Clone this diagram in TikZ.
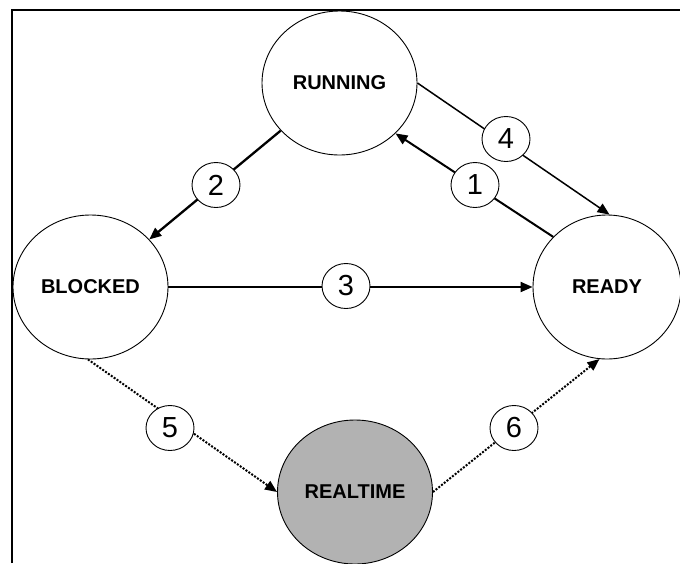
\documentclass[tikz,border=0pt]{standalone}
\usepackage{fontspec}
\setmainfont{Liberation Sans}
\usetikzlibrary{shapes.geometric,arrows.meta}

\begin{document}
\begin{tikzpicture}[x=1pt, y=-1pt,
		state/.style={ellipse, draw, line width=0.9pt, minimum width=155pt, minimum height=144pt, inner sep=0pt, font=\fontsize{20}{20}\selectfont\bfseries},
		num/.style={ellipse, draw, fill=white, line width=0.9pt, minimum width=48pt, minimum height=45pt, inner sep=0pt, font=\fontsize{29}{29}\selectfont},
		trans/.style={line width=2pt, -{Triangle[length=12pt, width=10pt]}},
		dottrans/.style={trans, dash pattern=on 2pt off 1.5pt}]
		\useasboundingbox (0, 0) rectangle (680, 563);
		\draw[line width=2pt] (12, 563) -- (12, 10) -- (680, 10);
		
		\node[state] (run) at (339.5, 83) {RUNNING};
		\node[state] (blk) at (90.5, 287) {BLOCKED};
		\node[state, minimum width=148pt] (rdy) at (607, 287) {READY};
		\node[state, fill=gray!60] (rt) at (355, 492) {REALTIME};
		
		\draw[trans] (rdy.137) -- (run.-42);
		\draw[trans, line width=2.3pt] (run.219) -- (blk.39);
		\draw[trans] (blk) -- (rdy);
		\draw[trans, line width=1.5pt] (run.0) -- (rdy.88);
		\draw[dottrans] (blk.-92) -- (rt.west);
		\draw[dottrans] (rt.east) -- (rdy.-96);
		
		\node[num] (n1) at (475, 185) {1};
		\node[num] (n2) at (216, 185) {2};
		\node[num] (n3) at (346, 286) {3};
		\node[num] (n4) at (506, 139) {4};
		\node[num] (n5) at (170, 428) {5};
		\node[num] (n6) at (514, 428) {6};
	\end{tikzpicture}
\end{document}
